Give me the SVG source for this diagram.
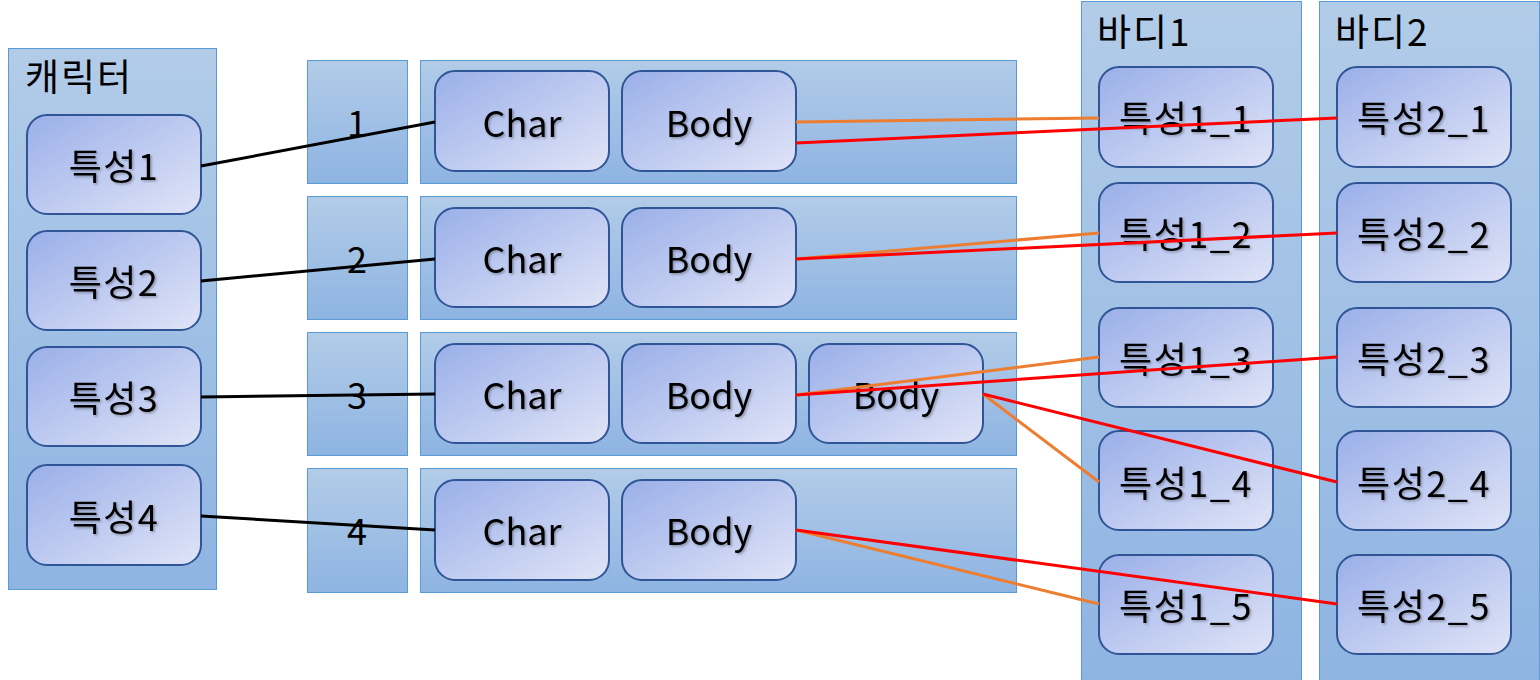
<svg xmlns="http://www.w3.org/2000/svg" width="1540" height="680" viewBox="0 0 1540 680">
<defs>
<linearGradient id="gCont" x1="0" y1="0" x2="0" y2="1">
<stop offset="0" stop-color="#b2cce8"/>
<stop offset="1" stop-color="#8eb4e2"/>
</linearGradient>
<linearGradient id="gNode" x1="0" y1="0" x2="1" y2="1">
<stop offset="0" stop-color="#9aafe9"/>
<stop offset="1" stop-color="#e0e4f7"/>
</linearGradient>
<filter id="ts" x="-10%" y="-10%" width="130%" height="140%">
<feDropShadow dx="1.5" dy="1.5" stdDeviation="1" flood-color="#000" flood-opacity="0.3"/>
</filter>
</defs>
<style>
.cont{fill:url(#gCont);stroke:#5b9bd5;stroke-width:1}
.node{fill:url(#gNode);stroke:#2f5597;stroke-width:2}
.t{font-family:"Noto Sans CJK KR","Noto Sans",sans-serif;font-size:37px;letter-spacing:2px;fill:#000}
.nt{font-family:"Noto Sans CJK KR","Noto Sans",sans-serif;font-size:36px;fill:#000;text-anchor:middle;dominant-baseline:central;filter:url(#ts)}
.kr{letter-spacing:1.5px}
.num{font-family:"Noto Sans CJK KR","Noto Sans",sans-serif;font-size:36px;fill:#000;text-anchor:middle;dominant-baseline:central}
.bk{stroke:#000;stroke-width:3;fill:none}
.or{stroke:#ed7d31;stroke-width:3;fill:none}
.rd{stroke:#ff0000;stroke-width:3;fill:none}
</style>
<g id="character">
<rect class="cont" x="8.5" y="48.5" width="208" height="541"/>
<text class="t" x="25" y="91">캐릭터</text>
</g>
<g id="char_trait1"><rect class="node" x="27" y="115" width="174" height="99" rx="20"/><text class="nt kr" x="114" y="164">특성1</text></g>
<g id="char_trait2"><rect class="node" x="27" y="231" width="174" height="99" rx="20"/><text class="nt kr" x="114" y="280">특성2</text></g>
<g id="char_trait3"><rect class="node" x="27" y="347" width="174" height="99" rx="20"/><text class="nt kr" x="114" y="396">특성3</text></g>
<g id="char_trait4"><rect class="node" x="27" y="465" width="174" height="100" rx="20"/><text class="nt kr" x="114" y="515">특성4</text></g>

<g id="num1"><rect class="cont" x="307.5" y="60.5" width="100" height="123"/><text class="num" x="357" y="121">1</text></g>
<g id="num2"><rect class="cont" x="307.5" y="196.5" width="100" height="123"/><text class="num" x="357" y="257">2</text></g>
<g id="num3"><rect class="cont" x="307.5" y="332.5" width="100" height="123"/><text class="num" x="357" y="393">3</text></g>
<g id="num4"><rect class="cont" x="307.5" y="468.5" width="100" height="124"/><text class="num" x="357" y="529">4</text></g>

<g id="row1"><rect class="cont" x="420.5" y="60.5" width="596" height="123"/></g>
<g id="row2"><rect class="cont" x="420.5" y="196.5" width="596" height="123"/></g>
<g id="row3"><rect class="cont" x="420.5" y="332.5" width="596" height="123"/></g>
<g id="row4"><rect class="cont" x="420.5" y="468.5" width="596" height="124"/></g>

<g id="char1"><rect class="node" x="435" y="71" width="174" height="100" rx="20"/><text class="nt" x="522" y="121">Char</text></g>
<g id="body1"><rect class="node" x="622" y="71" width="174" height="100" rx="20"/><text class="nt" x="709" y="121">Body</text></g>
<g id="char2"><rect class="node" x="435" y="208" width="174" height="99" rx="20"/><text class="nt" x="522" y="257">Char</text></g>
<g id="body2"><rect class="node" x="622" y="208" width="174" height="99" rx="20"/><text class="nt" x="709" y="257">Body</text></g>
<g id="char3"><rect class="node" x="435" y="344" width="174" height="99" rx="20"/><text class="nt" x="522" y="393">Char</text></g>
<g id="body3a"><rect class="node" x="622" y="344" width="174" height="99" rx="20"/><text class="nt" x="709" y="393">Body</text></g>
<g id="body3b"><rect class="node" x="809" y="344" width="174" height="99" rx="20"/><text class="nt" x="896" y="393">Body</text></g>
<g id="char4"><rect class="node" x="435" y="480" width="174" height="100" rx="20"/><text class="nt" x="522" y="529">Char</text></g>
<g id="body4"><rect class="node" x="622" y="480" width="174" height="100" rx="20"/><text class="nt" x="709" y="529">Body</text></g>

<g id="body1col">
<rect class="cont" x="1081.5" y="1.5" width="220" height="690"/>
<text class="t" x="1097" y="46">바디1</text>
</g>
<g id="body2col">
<rect class="cont" x="1319.5" y="1.5" width="220" height="690"/>
<text class="t" x="1335" y="46">바디2</text>
</g>
<g id="t1_1"><rect class="node" x="1099" y="67" width="174" height="100" rx="20"/><text class="nt kr" x="1186" y="116">특성1_1</text></g>
<g id="t1_2"><rect class="node" x="1099" y="183" width="174" height="99" rx="20"/><text class="nt kr" x="1186" y="232">특성1_2</text></g>
<g id="t1_3"><rect class="node" x="1099" y="308" width="174" height="99" rx="20"/><text class="nt kr" x="1186" y="357">특성1_3</text></g>
<g id="t1_4"><rect class="node" x="1099" y="431" width="174" height="99" rx="20"/><text class="nt kr" x="1186" y="481">특성1_4</text></g>
<g id="t1_5"><rect class="node" x="1099" y="555" width="174" height="99" rx="20"/><text class="nt kr" x="1186" y="604">특성1_5</text></g>
<g id="t2_1"><rect class="node" x="1337" y="67" width="174" height="100" rx="20"/><text class="nt kr" x="1424" y="116">특성2_1</text></g>
<g id="t2_2"><rect class="node" x="1337" y="183" width="174" height="99" rx="20"/><text class="nt kr" x="1424" y="232">특성2_2</text></g>
<g id="t2_3"><rect class="node" x="1337" y="308" width="174" height="99" rx="20"/><text class="nt kr" x="1424" y="357">특성2_3</text></g>
<g id="t2_4"><rect class="node" x="1337" y="431" width="174" height="99" rx="20"/><text class="nt kr" x="1424" y="481">특성2_4</text></g>
<g id="t2_5"><rect class="node" x="1337" y="555" width="174" height="99" rx="20"/><text class="nt kr" x="1424" y="604">특성2_5</text></g>

<g id="connectors">
<line class="bk" x1="201" y1="166" x2="435" y2="122"/>
<line class="bk" x1="201" y1="281" x2="435" y2="259"/>
<line class="bk" x1="201" y1="397" x2="435" y2="394"/>
<line class="bk" x1="201" y1="516" x2="435" y2="530"/>
<line class="or" x1="796" y1="122" x2="1099" y2="118"/>
<line class="rd" x1="796" y1="143" x2="1337" y2="118"/>
<line class="or" x1="796" y1="259" x2="1099" y2="233"/>
<line class="rd" x1="796" y1="259" x2="1337" y2="233"/>
<line class="or" x1="796" y1="395" x2="1099" y2="357"/>
<line class="rd" x1="796" y1="395" x2="1337" y2="357"/>
<line class="or" x1="983" y1="394" x2="1099" y2="482"/>
<line class="rd" x1="983" y1="394" x2="1337" y2="482"/>
<line class="or" x1="796" y1="530" x2="1099" y2="604"/>
<line class="rd" x1="796" y1="530" x2="1337" y2="604"/>
</g>
</svg>
